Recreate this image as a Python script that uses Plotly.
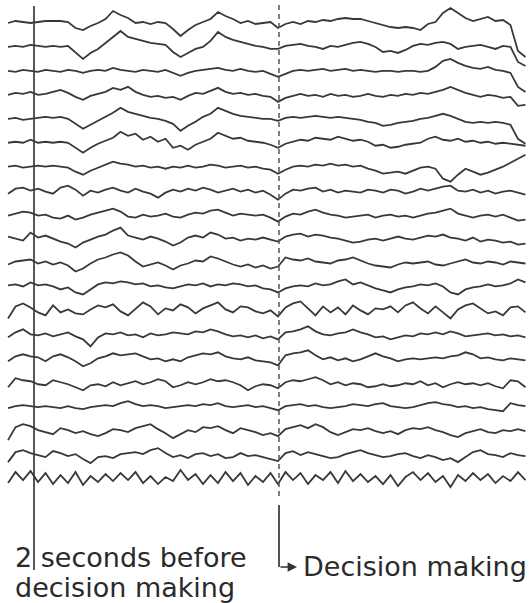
import numpy as np
import plotly.graph_objects as go

# ---- data: 20 EEG channels, amplitude (arbitrary units, up = positive) ----
T_START, T_END = -2.212, 2.012   # seconds relative to decision
MARK_BEFORE = -2.0               # "2 seconds before decision making"
MARK_DECISION = 0.0              # decision making

ch01 = [0,2,1,0,1,2,2,2,1,-5,-7,-3,0,4,12,8,5,0,1,-1,1,0,-6,-13,-7,-2,1,4,11,7,4,0,2,-1,0,1,-5,-1,1,-1,2,1,3,2,4,5,4,4,2,0,-2,-4,-5,-4,-5,-7,-1,1,10,15,10,5,2,4,6,2,3,-2,-28,-34]
ch02 = [0,1,0,2,1,0,1,0,1,-6,-12,-6,-2,4,10,16,10,8,6,4,3,2,-5,-10,-6,-2,0,6,15,10,7,5,3,1,0,-2,-2,1,2,3,1,0,-2,1,0,2,4,5,3,0,-5,-4,-6,-3,1,3,2,4,5,3,-2,0,1,2,0,-2,1,0,-15,-19]
ch03 = [0,-1,1,0,-1,1,0,-1,1,0,-2,0,1,0,3,1,0,-1,1,0,-1,1,-2,-5,-2,0,1,2,3,1,0,2,0,-1,0,-3,-6,-3,0,1,0,1,2,0,1,2,0,1,0,-1,0,0,-1,0,0,-1,0,4,10,12,8,5,3,2,4,1,0,-2,-16,-21]
ch04 = [0,2,1,3,0,1,3,5,2,-2,-5,-1,1,3,7,5,8,3,0,-2,-1,-3,-2,-5,-1,2,1,4,7,3,1,2,0,1,-1,-2,-7,-3,-1,1,-1,0,-2,1,-1,0,-2,-1,1,-1,-2,0,-1,1,0,2,1,3,5,8,5,2,0,-2,0,-1,-3,-2,-11,-10]
ch05 = [0,1,-1,0,1,2,1,2,0,-5,-10,-6,-2,2,6,11,7,5,3,1,0,-2,-5,-12,-7,-3,2,5,11,8,5,3,2,1,0,0,-2,1,2,1,2,3,2,1,2,1,0,-1,-3,-4,-7,-6,-4,-3,-2,0,1,3,5,3,0,-3,-4,-3,-4,-3,-4,-6,-20,-25]
ch06 = [0,1,0,3,0,1,0,1,0,-5,-10,-5,-1,2,5,11,7,9,3,6,1,4,-5,-3,-7,-2,1,4,10,7,4,5,2,1,0,-2,-5,-1,1,3,2,5,4,3,6,4,2,3,1,-3,-2,-5,-4,-2,-1,0,4,6,3,2,4,1,2,0,1,-1,0,-1,-2,-3]
ch07 = [0,1,-1,0,1,0,1,0,-1,-5,-8,-4,-1,2,5,3,2,0,1,-1,0,-2,0,-1,1,-1,0,2,1,-1,0,1,-1,0,-2,-3,-7,-3,0,1,0,2,1,3,1,2,0,1,-2,-4,-7,-6,-5,-7,-4,-1,0,-2,-12,-15,-8,-2,-5,-8,-6,-3,0,4,8,12]
ch08 = [-3,2,3,0,2,-1,-3,3,5,1,-5,0,-2,1,3,0,-2,2,-1,-3,-7,-2,1,-1,2,0,3,1,-2,0,2,-1,1,-2,0,-4,-9,-3,1,0,2,3,-1,1,-2,0,-1,-2,1,0,-2,1,0,-3,-1,2,0,2,4,5,0,-1,1,-2,0,-3,-1,0,-2,-4]
ch09 = [-1,1,3,2,-1,0,-3,-4,-1,-5,-3,0,2,4,6,3,-2,-3,0,-2,-1,1,-2,-3,0,2,1,4,5,2,-1,1,0,-1,0,-3,-7,-2,1,0,3,5,2,0,-1,-3,-2,-1,0,-3,-1,0,-2,-1,-3,-1,1,2,4,6,1,-1,-3,-1,0,-2,0,-3,-6,-5]
ch10 = [2,0,-2,6,1,3,0,-3,-5,-9,-4,-1,2,4,8,11,3,1,-1,2,0,-3,-7,-4,1,3,1,6,4,0,1,-2,0,-1,1,-1,-3,2,4,5,2,4,3,1,0,-2,-4,-3,-1,0,-2,0,2,0,-1,1,3,2,4,1,0,-2,1,-3,-1,-2,-4,-3,-6,-5]
ch11 = [-2,1,2,3,-1,1,-2,0,-3,-9,-6,-1,3,5,8,10,7,1,-4,-2,0,-3,-7,-3,-1,2,1,6,4,1,-2,-4,-2,-5,-3,-6,-4,5,3,2,4,1,0,-1,2,3,5,2,-1,-3,-4,-5,-2,0,-1,0,1,-2,-3,-1,1,3,0,-1,1,0,-2,1,0,-1]
ch12 = [1,2,0,4,1,2,0,-3,-1,-6,-8,-3,2,4,3,5,4,2,3,0,1,-1,-2,0,2,1,3,0,2,1,3,2,0,1,-2,-3,-6,-2,0,1,0,3,1,2,5,7,2,4,1,-2,-4,-6,-3,-1,0,2,1,3,0,-6,-8,-3,-1,0,2,0,1,3,7,4]
ch13 = [-8,4,7,3,-2,-5,5,-2,1,-3,-4,1,5,3,6,-1,-5,2,8,4,-4,2,0,6,3,-3,2,5,8,1,-2,4,3,-1,-3,0,-6,3,7,9,2,-5,4,-2,3,-4,5,0,-4,2,1,4,-2,5,8,2,-3,4,-2,-8,1,5,7,2,-3,-1,-5,3,4,-2]
ch14 = [-3,2,5,0,-1,1,-2,0,2,-2,-5,-12,-3,1,0,2,-1,0,-3,1,-1,0,2,1,0,3,2,5,3,0,-2,-1,-3,-1,-4,-2,-5,2,3,5,8,3,0,-1,1,2,5,2,0,-3,-2,-5,-3,-1,-2,1,0,2,0,3,1,-2,-1,0,1,-1,0,-2,-1,-3]
ch15 = [-3,2,4,2,1,-3,2,4,1,-3,-8,-5,0,2,5,3,4,5,2,-1,0,-3,-1,-3,1,3,5,4,6,2,0,-1,1,-2,-3,-4,-7,3,5,6,8,3,-1,1,-2,0,-3,-1,2,5,2,0,-3,-1,0,-1,0,1,0,2,3,6,4,0,1,-1,-2,0,-1,-2]
ch16 = [-5,4,2,1,-2,-3,2,0,-2,-5,-8,-3,-2,-4,0,-3,-1,1,-2,0,3,1,-5,-3,0,-2,0,3,1,2,0,-3,-8,-4,-2,-3,-6,0,2,1,3,5,2,-2,0,-3,-1,-2,-5,-4,-2,-4,-3,-1,-2,1,-3,-1,-5,-2,0,-2,-1,-3,-1,-4,-6,2,1,-5]
ch17 = [-2,0,1,0,-1,0,-1,-2,0,-2,-3,-1,0,1,0,3,5,2,0,1,0,-2,-1,0,1,0,2,1,3,0,-1,0,1,-1,0,-2,-4,0,1,2,0,1,-1,-2,-1,0,2,1,0,2,3,0,-1,-2,-1,1,3,4,2,1,-1,0,-2,-1,-3,-4,-5,3,1,0]
ch18 = [-10,3,6,4,0,-2,-4,2,0,-3,-1,-4,-6,-3,1,0,-2,2,4,6,1,-3,-8,-4,0,-2,3,2,4,0,-3,2,0,-2,-5,-3,-6,1,3,5,2,6,3,-2,-5,-2,1,0,2,-1,-3,-1,-4,0,2,1,3,0,-2,-5,-7,-3,-1,1,-2,-3,0,-1,1,-1]
ch19 = [-8,2,4,1,-1,-3,3,1,-2,0,-5,-9,-3,-2,-4,0,1,2,0,4,6,1,-3,-1,-4,0,1,-2,0,-4,-3,1,-2,-1,-3,-5,-7,1,3,-1,2,0,-2,-4,-3,0,2,4,1,-1,-3,-2,0,1,-2,-4,-1,-3,-6,-4,-8,-3,2,4,0,-1,-3,1,-1,-2]
ch20 = [-5,6,-2,7,-4,5,-6,3,-5,6,-7,2,-4,4,-3,5,-2,6,-5,2,-6,1,-3,8,-2,4,-6,3,-5,6,-3,5,-7,2,-4,5,-6,6,-2,5,-6,3,-2,6,-5,7,-3,4,-4,2,-6,3,-8,1,6,-2,5,-4,2,-9,3,-3,5,-2,4,-5,2,-3,6,-2]

channels = [ch01, ch02, ch03, ch04, ch05, ch06, ch07, ch08, ch09, ch10,
            ch11, ch12, ch13, ch14, ch15, ch16, ch17, ch18, ch19, ch20]

label_before_1 = "2 seconds before"
label_before_2 = "decision making"
label_decision = "Decision making"

# ---- layout constants (pixels) ----
W, H = 529, 603
PX_PER_S = 122.5
X0_PX = 34.0                    # pixel position of MARK_BEFORE
FIRST_BASE, SPACING = 23.0, 23.95
LINE_COLOR = "#383838"
FONT = dict(family="DejaVu Sans", size=27, color="#2a2a2a")

def t_of_px(px):
    return MARK_BEFORE + (px - X0_PX) / PX_PER_S

fig = go.Figure()
for k, vals in enumerate(channels):
    n = len(vals)
    t = np.linspace(T_START, T_END, n)
    base = -(FIRST_BASE + k * SPACING)
    fig.add_trace(go.Scatter(
        x=t, y=base + np.asarray(vals, dtype=float), mode="lines",
        line=dict(color=LINE_COLOR, width=1.8),
        hoverinfo="skip", showlegend=False))

# solid marker line at 2 s before decision
fig.add_shape(type="line", x0=MARK_BEFORE, x1=MARK_BEFORE, y0=-6, y1=-570,
              line=dict(color="#3a3a3a", width=1.7))
# dashed line at decision
fig.add_shape(type="line", x0=MARK_DECISION, x1=MARK_DECISION, y0=-5, y1=-500,
              line=dict(color="#555555", width=1.5, dash="5px,4px"))
# solid part and elbow arrow
fig.add_shape(type="line", x0=MARK_DECISION, x1=MARK_DECISION, y0=-505, y1=-567,
              line=dict(color="#333333", width=1.7))
fig.add_annotation(x=t_of_px(297), y=-567, ax=MARK_DECISION, ay=-567,
                   xref="x", yref="y", axref="x", ayref="y",
                   showarrow=True, arrowhead=2, arrowsize=1.1, arrowwidth=1.7,
                   arrowcolor="#333333", text="")

fig.add_annotation(x=t_of_px(13), y=-557, xref="x", yref="y",
                   text=label_before_1, showarrow=False, xanchor="left",
                   yanchor="middle", font=FONT)
fig.add_annotation(x=t_of_px(13), y=-587, xref="x", yref="y",
                   text=label_before_2, showarrow=False, xanchor="left",
                   yanchor="middle", font=FONT)
fig.add_annotation(x=t_of_px(301), y=-566, xref="x", yref="y",
                   text=label_decision, showarrow=False, xanchor="left",
                   yanchor="middle", font=FONT)

fig.update_layout(
    width=W, height=H, margin=dict(l=0, r=0, t=0, b=0),
    paper_bgcolor="white", plot_bgcolor="white",
    xaxis=dict(range=[t_of_px(0), t_of_px(W)], visible=False, fixedrange=True),
    yaxis=dict(range=[-H, 0], visible=False, fixedrange=True),
)
fig.write_html("out.html", config={"displayModeBar": False, "staticPlot": True})

# remove the browser's default page margin so the figure sits at (0, 0)
with open("out.html", "r", encoding="utf-8") as f:
    html = f.read()
html = html.replace("<head>", "<head><style>html,body{margin:0;padding:0;overflow:hidden;}</style>", 1)
with open("out.html", "w", encoding="utf-8") as f:
    f.write(html)
